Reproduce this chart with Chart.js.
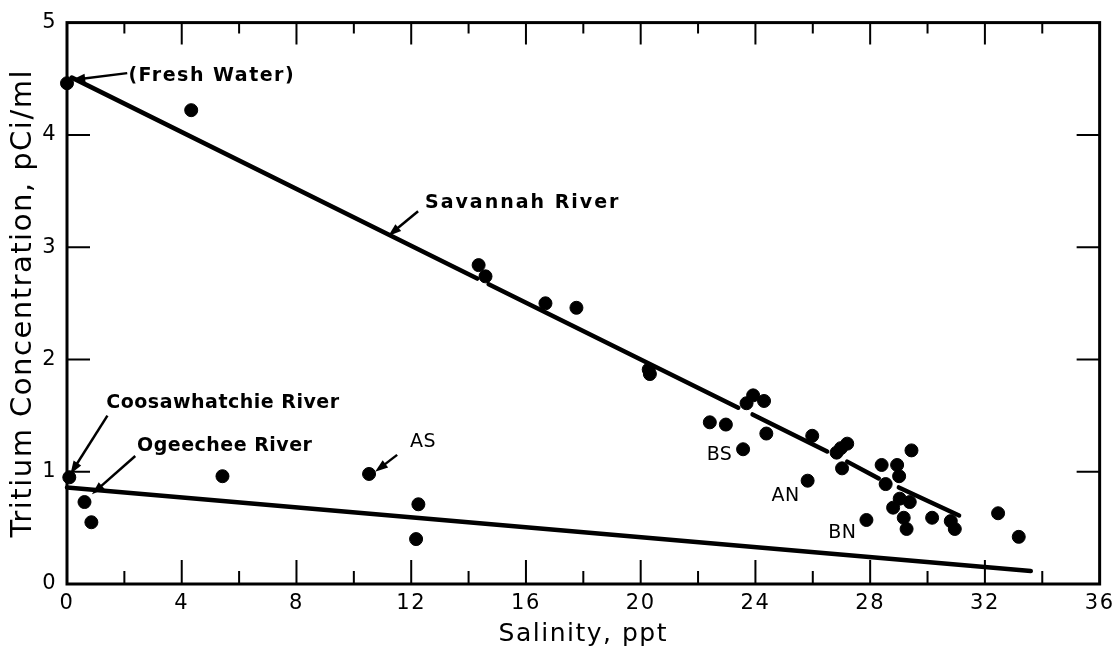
<!DOCTYPE html>
<html>
<head>
<meta charset="utf-8">
<script src="https://cdn.jsdelivr.net/npm/chart.js@4.4.1/dist/chart.umd.min.js"></script>
<style>
  html, body { margin: 0; background: #fff; }
</style>
</head>
<body>
<canvas id="tritiumChart" width="1120" height="652"></canvas>
<script>
// sample points, salinity (ppt) vs tritium (pCi/ml)
const salinity = [0.0, 4.33, 14.35, 14.59, 16.68, 17.76, 20.28, 20.32, 22.41, 22.97,
  23.69, 23.92, 24.30, 24.38, 23.57, 25.98, 25.82, 26.83, 26.98, 27.20,
  27.02, 27.87, 28.40, 28.54, 28.94, 29.01, 29.44, 28.80, 29.03, 29.38,
  29.17, 29.27, 30.16, 30.81, 30.95, 32.46, 33.18,
  0.08, 0.61, 0.85, 5.42, 10.53, 12.25, 12.17]
const tritium = [4.46, 4.22, 2.84, 2.74, 2.50, 2.46, 1.91, 1.87, 1.44, 1.42,
  1.61, 1.68, 1.63, 1.34, 1.20, 1.32, 0.92, 1.17, 1.21, 1.25,
  1.03, 0.57, 1.06, 0.89, 1.06, 0.96, 1.19, 0.68, 0.76, 0.73,
  0.59, 0.49, 0.59, 0.56, 0.49, 0.63, 0.42,
  0.95, 0.73, 0.55, 0.96, 0.98, 0.71, 0.40]

// Savannah River dilution line (hand drawn, broken where it passes points)
const savannahX = [0.17, 14.3, 14.5, 14.7, 23.4, 23.65, 23.9, 26.5, 26.85, 27.2, 28.3, 28.65, 29.0, 31.1]
const savannahY = [4.51, 2.72, null, 2.67, 1.57, null, 1.51, 1.18, null, 1.09, 0.94, null, 0.86, 0.61]

// Coosawhatchie / Ogeechee line
const lowerX = [0, 33.6]
const lowerY = [0.86, 0.115]

const xTicks = [0, 4, 8, 12, 16, 20, 24, 28, 32, 36]
const yTicks = [0, 1, 2, 3, 4, 5]

const notes = [
  { text: "(Fresh Water)", x: 2.14, y: 4.52, bold: true, spacing: 1.5, tail: [2.1, 4.55], head: [0.18, 4.49] },
  { text: "Savannah River", x: 12.48, y: 3.39, bold: true, spacing: 2, tail: [12.24, 3.32], head: [11.2, 3.1] },
  { text: "Coosawhatchie River", x: 1.37, y: 1.61, bold: true, spacing: 0.5, tail: [1.41, 1.5], head: [0.12, 0.98] },
  { text: "Ogeechee River", x: 2.44, y: 1.23, bold: true, spacing: 0.5, tail: [2.38, 1.14], head: [0.87, 0.8] },
  { text: "AS", x: 11.96, y: 1.26, bold: false, spacing: 0.5, tail: [11.51, 1.15], head: [10.74, 1.0] },
  { text: "BS", x: 22.3, y: 1.15, bold: false, spacing: 0.5 },
  { text: "AN", x: 24.56, y: 0.78, bold: false, spacing: 0.5 },
  { text: "BN", x: 26.54, y: 0.45, bold: false, spacing: 0.5 },
]

const FONT = "'DejaVu Sans', sans-serif"

function pairs(xs, ys) {
  return xs.map((x, i) => ({ x: x, y: ys[i] }))
}

// the lettering on the original is spaced out a little
const spacingPlugin = {
  id: "spacing",
  beforeDraw(chart) {
    chart.ctx.letterSpacing = "1.5px"
  },
}

// box frame with inward tick marks on all four sides
const framePlugin = {
  id: "frame",
  afterDatasetsDraw(chart) {
    const { ctx, chartArea: a, scales } = chart
    const x = scales.x
    const y = scales.y
    ctx.save()
    ctx.strokeStyle = "#000"
    ctx.lineWidth = 3
    ctx.strokeRect(a.left, a.top, a.right - a.left, a.bottom - a.top)
    ctx.lineWidth = 2
    ctx.beginPath()
    x.ticks.forEach((t) => {
      if (t.value <= x.min || t.value >= x.max) return
      const px = x.getPixelForValue(t.value)
      const major = t.value % 4 === 0
      ctx.moveTo(px, a.bottom)
      ctx.lineTo(px, a.bottom - (major ? 24 : 13))
      ctx.moveTo(px, a.top)
      ctx.lineTo(px, a.top + (major ? 22 : 11))
    })
    y.ticks.forEach((t) => {
      if (t.value <= y.min || t.value >= y.max) return
      const py = y.getPixelForValue(t.value)
      ctx.moveTo(a.left, py)
      ctx.lineTo(a.left + 23, py)
      ctx.moveTo(a.right, py)
      ctx.lineTo(a.right - 23, py)
    })
    ctx.stroke()
    ctx.restore()
  },
}

// text labels and arrows, placed in data units
const notesPlugin = {
  id: "notes",
  afterDraw(chart) {
    const { ctx, scales } = chart
    const px = (v) => scales.x.getPixelForValue(v)
    const py = (v) => scales.y.getPixelForValue(v)
    ctx.save()
    ctx.fillStyle = "#000"
    ctx.strokeStyle = "#000"
    notes.forEach((n) => {
      ctx.font = (n.bold ? "bold " : "") + "19px " + FONT
      ctx.letterSpacing = n.spacing + "px"
      ctx.textAlign = "left"
      ctx.textBaseline = "middle"
      ctx.fillText(n.text, px(n.x), py(n.y))
      if (n.tail) {
        const x1 = px(n.tail[0]), y1 = py(n.tail[1])
        const x2 = px(n.head[0]), y2 = py(n.head[1])
        const ang = Math.atan2(y2 - y1, x2 - x1)
        ctx.lineWidth = 2.5
        ctx.beginPath()
        ctx.moveTo(x1, y1)
        ctx.lineTo(x2 - 8 * Math.cos(ang), y2 - 8 * Math.sin(ang))
        ctx.stroke()
        ctx.beginPath()
        ctx.moveTo(x2, y2)
        ctx.lineTo(x2 - 13 * Math.cos(ang) + 4.5 * Math.sin(ang), y2 - 13 * Math.sin(ang) - 4.5 * Math.cos(ang))
        ctx.lineTo(x2 - 13 * Math.cos(ang) - 4.5 * Math.sin(ang), y2 - 13 * Math.sin(ang) + 4.5 * Math.cos(ang))
        ctx.closePath()
        ctx.fill()
      }
    })
    ctx.restore()
  },
}

const ctx = document.getElementById("tritiumChart").getContext("2d")
new Chart(ctx, {
  type: "scatter",
  data: {
    datasets: [
      {
        type: "line",
        label: "Savannah River",
        data: pairs(savannahX, savannahY),
        borderColor: "#000",
        borderWidth: 4.5,
        pointRadius: 0,
        spanGaps: false,
        borderCapStyle: "round",
        clip: false,
      },
      {
        type: "line",
        label: "Coosawhatchie / Ogeechee",
        data: pairs(lowerX, lowerY),
        borderColor: "#000",
        borderWidth: 4.5,
        pointRadius: 0,
        borderCapStyle: "round",
        clip: false,
      },
      {
        label: "Samples",
        data: pairs(salinity, tritium),
        backgroundColor: "#000",
        borderColor: "#000",
        pointRadius: 6.5,
        clip: false,
      },
    ],
  },
  options: {
    responsive: false,
    animation: false,
    layout: { padding: { top: 17, right: 20, left: 0, bottom: 0 } },
    plugins: {
      legend: { display: false },
      tooltip: { enabled: false },
    },
    scales: {
      x: {
        type: "linear",
        min: 0,
        max: 36,
        afterBuildTicks: (s) => {
          const t = []
          for (let v = 0; v <= 36; v += 2) t.push({ value: v })
          s.ticks = t
        },
        ticks: {
          autoSkip: false,
          maxRotation: 0,
          padding: 7,
          color: "#000",
          font: { family: FONT, size: 21 },
          callback: (v) => (xTicks.includes(v) ? String(v) : ""),
        },
        grid: { display: false, drawTicks: false },
        border: { display: false },
        title: {
          display: true,
          text: "Salinity, ppt",
          color: "#000",
          font: { family: FONT, size: 25 },
          padding: { top: 0, bottom: 3 },
        },
        afterFit: (s) => { s.height = 68 },
      },
      y: {
        type: "linear",
        min: 0,
        max: 5,
        afterBuildTicks: (s) => { s.ticks = yTicks.map((v) => ({ value: v })) },
        ticks: {
          padding: 10,
          color: "#000",
          font: { family: FONT, size: 21 },
        },
        grid: { display: false, drawTicks: false },
        border: { display: false },
        title: {
          display: true,
          text: "Tritium Concentration, pCi/ml",
          color: "#000",
          font: { family: FONT, size: 29 },
          padding: { top: 6, bottom: 0 },
        },
        afterFit: (s) => { s.width = 67 },
      },
    },
  },
  plugins: [spacingPlugin, framePlugin, notesPlugin],
})
</script>
</body>
</html>
